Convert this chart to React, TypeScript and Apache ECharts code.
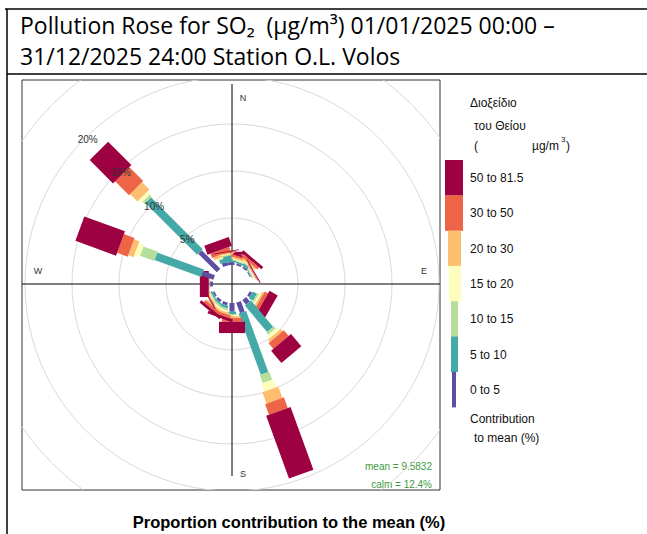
import React, { useEffect, useRef } from "react";
import * as echarts from "echarts";

const intervals = ["0 to 5", "5 to 10", "10 to 15", "15 to 20", "20 to 30", "30 to 50", "50 to 81.5"];
const colors = ["#5E4FA2", "#45A9A8", "#B4DE9A", "#FDFDBE", "#FDBF6F", "#EE6447", "#9E0142"];
const widthsPx = [5, 8, 10, 13, 17, 20, 26];
// wind directions (deg) and cumulative contribution (%) at the end of each interval
const directions = [0, 20, 40, 60, 120, 140, 160, 180, 200, 220, 240, 270, 290, 315, 340, 350];
const cumulative = [
  [0.3, 0.5, 0.6, 0.7, 0.9, 1.1, 1.4],
  [0.2, 0.4, 0.5, 0.6, 0.8, 1.0, 1.2],
  [0.2, 0.5, 0.6, 0.7, 0.9, 1.2, 1.5],
  [0.1, 0.2, 0.3, 0.4, 0.5, 0.6, 0.7],
  [0.3, 0.8, 1.0, 1.2, 1.4, 1.8, 2.8],
  [0.6, 4.3, 4.6, 5.0, 5.3, 6.1, 7.8],
  [1.2, 8.1, 9.0, 9.9, 11.2, 12.4, 19.5],
  [0.9, 1.2, 1.3, 1.4, 1.6, 2.0, 3.2],
  [0.3, 0.6, 0.8, 1.0, 1.2, 1.5, 1.8],
  [0.3, 0.5, 0.7, 0.9, 1.1, 1.4, 1.7],
  [0.2, 0.4, 0.5, 0.6, 0.7, 0.8, 0.9],
  [0.3, 0.35, 0.4, 0.4, 0.4, 0.45, 1.4],
  [1.3, 6.6, 8.2, 8.8, 9.4, 10.6, 15.2],
  [2.8, 10.6, 10.9, 11.3, 12.4, 14.5, 18.0],
  [0.4, 0.8, 0.9, 1.0, 1.3, 1.8, 2.8],
  [0.3, 1.0, 1.1, 1.2, 1.3, 1.4, 1.5],
];
const ringPcts = [5, 10, 15, 20, 25];
const ringLabels = ["5%", "10%", "15%", "20%", ""];
const compass = ["N", "E", "S", "W"];
const meanText = "mean = 9.5832";
const calmText = "calm = 12.4%";

const PX = 9.4; // px per %
const OFF = 19 / PX; // calm offset in % units

export default function App() {
  const ref = useRef<HTMLDivElement>(null);
  useEffect(() => {
    const chart = echarts.init(ref.current!, null, { renderer: "svg" });
    const paddles: number[][] = [];
    directions.forEach((d, i) => {
      cumulative[i].forEach((c, j) => {
        const s = j === 0 ? 0 : cumulative[i][j - 1];
        if (c > s) paddles.push([d, j, s, c]);
      });
    });
    const legendGraphics: any[] = [];
    const lx = [445, 445, 448, 449, 451, 451, 452];
    const lw = [18, 18, 13, 12, 7, 7, 4];
    for (let k = 0; k < 7; k++) {
      const idx = 6 - k;
      const y0 = 160 + k * 35.3;
      legendGraphics.push({ type: "rect", shape: { x: lx[k], y: y0, width: lw[k], height: 35.6 }, style: { fill: colors[idx] } });
      legendGraphics.push({ type: "text", x: 470, y: y0 + 18, style: { text: intervals[idx], font: "12px 'Liberation Sans'", fill: "#111", verticalAlign: "middle" } });
    }
    const tf = "12px 'Liberation Sans'";
    chart.setOption({
      animation: false,
      grid: { left: 22, top: 80, width: 418, height: 410, show: true, borderColor: "#333", borderWidth: 1 },
      xAxis: { type: "value", min: -210 / PX, max: 208 / PX, show: false },
      yAxis: { type: "value", min: -206 / PX, max: 204 / PX, show: false },
      graphic: [
        { type: "line", shape: { x1: 5, y1: 9, x2: 647, y2: 9 }, style: { stroke: "#000", lineWidth: 1.5 } },
        { type: "line", shape: { x1: 7, y1: 9, x2: 7, y2: 534 }, style: { stroke: "#000", lineWidth: 1.5 } },
        { type: "line", shape: { x1: 7, y1: 74, x2: 647, y2: 74 }, style: { stroke: "#000", lineWidth: 1.5 } },
        { type: "text", x: 20, y: 13, style: { text: "Pollution Rose for SO₂  (µg/m³) 01/01/2025 00:00 –", font: "23px 'Open Sans'", fill: "#000" } },
        { type: "text", x: 20, y: 44, style: { text: "31/12/2025 24:00 Station O.L. Volos", font: "23px 'Open Sans'", fill: "#000" } },
        { type: "text", x: 289, y: 522, style: { text: "Proportion contribution to the mean (%)", font: "bold 16.5px 'Liberation Sans'", fill: "#000", align: "center", verticalAlign: "middle" } },
        { type: "text", x: 470, y: 103, style: { text: "Διοξείδιο", font: tf, fill: "#111", verticalAlign: "middle" } },
        { type: "text", x: 474, y: 126, style: { text: "του Θείου", font: tf, fill: "#111", verticalAlign: "middle" } },
        { type: "text", x: 474, y: 146, style: { text: "(", font: tf, fill: "#111", verticalAlign: "middle" } },
        { type: "text", x: 532, y: 146, style: { text: "µg/m", font: tf, fill: "#111", verticalAlign: "middle" } },
        { type: "text", x: 561, y: 139, style: { text: "3", font: "8px 'Liberation Sans'", fill: "#111", verticalAlign: "middle" } },
        { type: "text", x: 566, y: 146, style: { text: ")", font: tf, fill: "#111", verticalAlign: "middle" } },
        { type: "text", x: 470, y: 419, style: { text: "Contribution", font: tf, fill: "#111", verticalAlign: "middle" } },
        { type: "text", x: 474, y: 438, style: { text: "to mean (%)", font: tf, fill: "#111", verticalAlign: "middle" } },
        { type: "text", x: 432, y: 466, style: { text: meanText, font: "10px 'Liberation Sans'", fill: "#3E9A3E", align: "right", verticalAlign: "middle" } },
        { type: "text", x: 432, y: 484, style: { text: calmText, font: "10px 'Liberation Sans'", fill: "#3E9A3E", align: "right", verticalAlign: "middle" } },
        ...legendGraphics,
      ],
      series: [
        {
          type: "custom",
          clip: true,
          z: 1,
          data: ringPcts.map((p, i) => [p, i]),
          renderItem: (params: any, api: any) => {
            const p = api.value(0);
            const c = api.coord([0, 0]);
            const e = api.coord([OFF + p, 0]);
            const r = e[0] - c[0];
            return { type: "circle", shape: { cx: c[0], cy: c[1], r }, style: { fill: "none", stroke: "#d9d9d9", lineWidth: 1 } };
          },
        },
        {
          type: "custom",
          clip: true,
          z: 2,
          data: [[0]],
          renderItem: (params: any, api: any) => {
            const c = api.coord([0, 0]);
            const top = api.coord([0, 200 / PX]);
            const bot = api.coord([0, -192 / PX]);
            const l = api.coord([-210 / PX, 0]);
            const rr = api.coord([208 / PX, 0]);
            const st = { stroke: "#000", lineWidth: 1 };
            const lf = "9px 'Liberation Sans'";
            return {
              type: "group",
              children: [
                { type: "line", shape: { x1: c[0], y1: top[1], x2: c[0], y2: bot[1] }, style: st },
                { type: "line", shape: { x1: l[0], y1: c[1], x2: rr[0], y2: c[1] }, style: st },
                { type: "text", x: c[0] + 11, y: top[1] + 14, style: { text: compass[0], font: lf, fill: "#333", align: "center", verticalAlign: "middle" } },
                { type: "text", x: rr[0] - 16, y: c[1] - 13, style: { text: compass[1], font: lf, fill: "#333", align: "center", verticalAlign: "middle" } },
                { type: "text", x: c[0] + 11, y: bot[1] - 2, style: { text: compass[2], font: lf, fill: "#333", align: "center", verticalAlign: "middle" } },
                { type: "text", x: l[0] + 16, y: c[1] - 13, style: { text: compass[3], font: lf, fill: "#333", align: "center", verticalAlign: "middle" } },
              ],
            };
          },
        },
        {
          type: "custom",
          clip: true,
          z: 3,
          data: paddles,
          renderItem: (params: any, api: any) => {
            const th = (api.value(0) * Math.PI) / 180;
            const j = api.value(1);
            const r0 = OFF + api.value(2);
            const r1 = OFF + api.value(3);
            const ux = Math.sin(th), uy = Math.cos(th);
            const px = Math.cos(th), py = -Math.sin(th);
            const hw = widthsPx[j] / 2 / PX;
            const pts = [
              [r0 * ux + hw * px, r0 * uy + hw * py],
              [r1 * ux + hw * px, r1 * uy + hw * py],
              [r1 * ux - hw * px, r1 * uy - hw * py],
              [r0 * ux - hw * px, r0 * uy - hw * py],
            ].map((p) => api.coord(p));
            return { type: "polygon", shape: { points: pts }, style: { fill: colors[j], stroke: "none" } };
          },
        },
        {
          type: "custom",
          clip: true,
          z: 4,
          data: ringPcts.map((p, i) => [p, i]),
          renderItem: (params: any, api: any) => {
            const i = api.value(1);
            if (!ringLabels[i]) return null;
            const c = api.coord([0, 0]);
            const e = api.coord([OFF + api.value(0), 0]);
            const r = e[0] - c[0];
            const a = (-135 * Math.PI) / 180;
            return { type: "text", x: c[0] + r * Math.cos(a) + 2, y: c[1] + r * Math.sin(a) + 2, style: { text: ringLabels[i], font: "10px 'Liberation Sans'", fill: "#333", align: "center", verticalAlign: "middle" } };
          },
        },
      ],
    });
    return () => chart.dispose();
  }, []);
  return <div ref={ref} style={{ position: "absolute", left: 0, top: 0, width: 647, height: 534, background: "#fff" }} />;
}
